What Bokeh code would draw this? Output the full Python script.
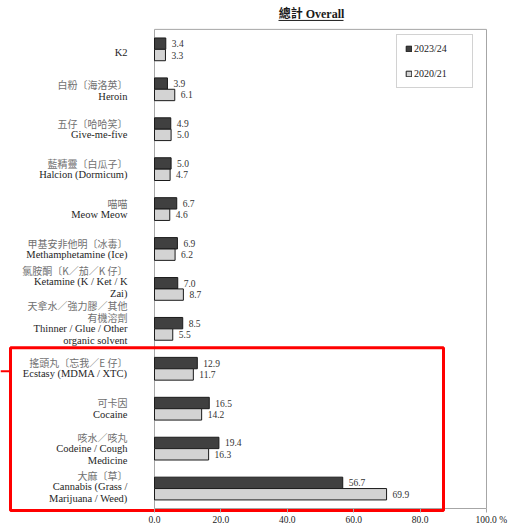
import numpy as np
from bokeh.plotting import figure
from bokeh.models import (Range1d, ColumnDataSource, FixedTicker, PrintfTickFormatter,
                          Legend, LegendItem)
from bokeh.core.properties import value
from bokeh.embed import file_html
from bokeh.resources import INLINE

# ---------------- data ----------------
categories_zh = ["", "白粉〔海洛英〕", "五仔〔哈哈笑〕", "藍精靈〔白瓜子〕", "喵喵",
                 "甲基安非他明〔冰毒〕", "氯胺酮〔K／茄／K 仔〕", "天拿水／強力膠／其他\n有機溶劑",
                 "搖頭丸〔忘我／E 仔〕", "可卡因", "咳水／咳丸", "大麻〔草〕"]
categories_en = ["K2", "Heroin", "Give-me-five", "Halcion (Dormicum)", "Meow Meow",
                 "Methamphetamine (Ice)", "Ketamine (K / Ket / K\nZai)",
                 "Thinner / Glue / Other\norganic solvent", "Ecstasy (MDMA / XTC)", "Cocaine",
                 "Codeine / Cough\nMedicine", "Cannabis (Grass /\nMarijuana / Weed)"]
series_names = ["2023/24", "2020/21"]
values_2023 = [3.4, 3.9, 4.9, 5.0, 6.7, 6.9, 7.0, 8.5, 12.9, 16.5, 19.4, 56.7]
values_2020 = [3.3, 6.1, 5.0, 4.7, 4.6, 6.2, 8.7, 5.5, 11.7, 14.2, 16.3, 69.9]
x_ticks = [0, 20, 40, 60, 80, 100]
title_text = "總計 Overall"
unit_text = "%"

# ---------------- layout constants ----------------
W, H = 511, 527
PX_X = 3.32            # px per % unit
PX_Y = 40.083          # px per category
X0_PX = 154            # px position of x = 0
TOP_PX = 29            # px of top of plot box
FRAME_BOTTOM = 13
LABEL_NUDGE_PX = [3, 1, 0, 0, 0, 0, -7, -6, -1, 0, 0, -2]   # vertical tweak of label blocks
n = len(categories_en)
frame_h = H - FRAME_BOTTOM
x_start = -X0_PX / PX_X
x_end = (W - X0_PX) / PX_X
y_top = -0.5 - TOP_PX / PX_Y
y_bot = y_top + frame_h / PX_Y

DARK = "#404040"
LIGHT = "#d3d3d3"
EDGE = "#1a1a1a"
GRID = "#a6a6a6"
SERIF = "Liberation Serif"
CJK = "Noto Sans CJK TC"

p = figure(width=W, height=H, x_range=Range1d(x_start, x_end), y_range=Range1d(y_bot, y_top),
           output_backend="svg", toolbar_location=None, y_axis_location=None,
           min_border_left=0, min_border_right=0, min_border_top=0, min_border_bottom=FRAME_BOTTOM)
p.outline_line_color = None
p.xgrid.visible = False
p.ygrid.visible = False
p.background_fill_color = "white"

idx = np.arange(n)
BAR_H = 0.285

# plot box
p.quad(left=[0], right=[x_ticks[-1]], top=[-0.5], bottom=[n - 0.5],
       fill_color=None, line_color=GRID, line_width=1)

src_a = ColumnDataSource(dict(y=idx - BAR_H / 2, v=values_2023,
                              t=[f"{v:.1f}" for v in values_2023]))
src_b = ColumnDataSource(dict(y=idx + BAR_H / 2, v=values_2020,
                              t=[f"{v:.1f}" for v in values_2020]))
r1 = p.hbar(y="y", right="v", left=0, height=BAR_H, source=src_a,
            fill_color=DARK, line_color=EDGE, line_width=1)
r2 = p.hbar(y="y", right="v", left=0, height=BAR_H, source=src_b,
            fill_color=LIGHT, line_color=EDGE, line_width=1)

for s in (src_a, src_b):
    p.text(x="v", y="y", text="t", source=s, x_offset=6, text_font=value(SERIF),
           text_font_size="9.5px", text_color="#333333", text_baseline="middle", text_align="left")

# category labels (Chinese lines grey, English lines black)
LINE_H = 11.5 / PX_Y
LABEL_X = (127 - X0_PX) / PX_X
zh_rows = dict(x=[], y=[], t=[])
en_rows = dict(x=[], y=[], t=[])
for i in range(n):
    lines = []
    if categories_zh[i]:
        lines += [(s, zh_rows) for s in categories_zh[i].split("\n")]
    lines += [(s, en_rows) for s in categories_en[i].split("\n")]
    k = len(lines)
    for j, (s, tgt) in enumerate(lines):
        tgt["x"].append(LABEL_X)
        tgt["y"].append(i + (j - (k - 1) / 2) * LINE_H + LABEL_NUDGE_PX[i] / PX_Y)
        tgt["t"].append(s)
p.text(x="x", y="y", text="t", source=ColumnDataSource(zh_rows), text_color="#707070",
       text_font=value(CJK), text_font_size="10px", text_align="right", text_baseline="middle")
p.text(x="x", y="y", text="t", source=ColumnDataSource(en_rows), text_color="#1e1e1e",
       text_font=value(SERIF), text_font_size="10.5px", text_align="right", text_baseline="middle")

# title with underline
title_x = (311 - X0_PX) / PX_X
p.text(x=[title_x], y=[-0.5 - 15 / PX_Y], text=[title_text],
       text_font=value(SERIF + ", " + CJK), text_font_style="bold", text_font_size="12px",
       text_color="#1a1a1a", text_align="center", text_baseline="middle")
p.segment(x0=[(278 - X0_PX) / PX_X], x1=[(343 - X0_PX) / PX_X],
          y0=[-0.5 - 9 / PX_Y], y1=[-0.5 - 9 / PX_Y], line_color="#1a1a1a", line_width=1)

# red highlight box
RED = "#ff0000"
p.quad(left=[(10 - X0_PX) / PX_X], right=[(443 - X0_PX) / PX_X],
       top=[n - 4.5 - 1 / PX_Y], bottom=[n - 0.5 + 2 / PX_Y],
       fill_color=None, line_color=RED, line_width=3)
p.segment(x0=[x_start], x1=[(10 - X0_PX) / PX_X], y0=[8.06], y1=[8.06],
          line_color=RED, line_width=2)

# x axis
ax = p.xaxis[0]
ax.ticker = FixedTicker(ticks=x_ticks)
ax.formatter = PrintfTickFormatter(format="%.1f")
ax.major_label_overrides = {x_ticks[-1]: "\u2002\u2002" + f"{x_ticks[-1]:.1f} " + unit_text}
ax.axis_line_color = None
ax.major_tick_in = 4
ax.major_tick_out = 0
ax.minor_tick_line_color = None
ax.major_tick_line_color = GRID
ax.major_label_standoff = 2
ax.major_label_text_font = SERIF
ax.major_label_text_font_size = "9.5px"
ax.major_label_text_color = "#222222"

legend = Legend(items=[LegendItem(label=series_names[0], renderers=[r1]),
                       LegendItem(label=series_names[1], renderers=[r2])],
                location=(396, frame_h - 90), orientation="vertical",
                glyph_width=7, glyph_height=7, label_height=10, label_width=50,
                spacing=14, padding=8, label_standoff=2, margin=0,
                border_line_color=GRID, border_line_width=1,
                label_text_font=SERIF, label_text_font_size="10px", label_text_color="#222222")
p.add_layout(legend)

open("out.html", "w").write(file_html(p, INLINE))
